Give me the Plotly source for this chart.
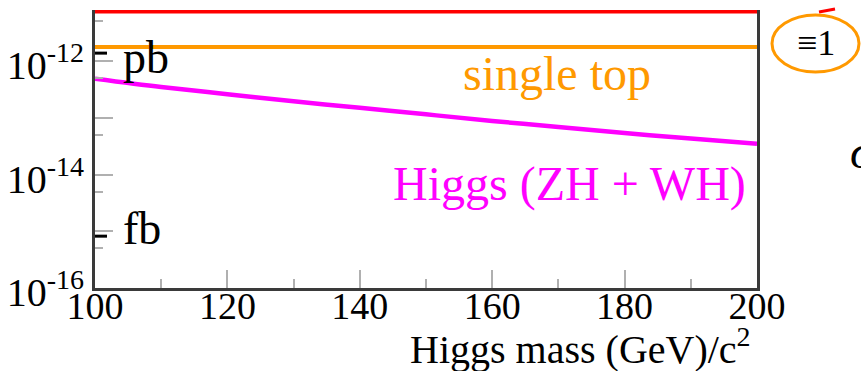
import math
import plotly.graph_objects as go

# ---- data ----
higgs_mass = [100, 110, 120, 130, 140, 150, 160, 170, 180, 190, 200]
higgs_zh_wh = [4.9e-13, 3.5e-13, 2.6e-13, 1.95e-13, 1.5e-13, 1.15e-13,
               8.8e-14, 6.9e-14, 5.4e-14, 4.3e-14, 3.5e-14]
single_top = [1.77e-12] * len(higgs_mass)
top_red = [7.5e-12] * len(higgs_mass)

y_major = [1e-16, 1e-15, 1e-14, 1e-13, 1e-12, 1e-11]
y_major_text = ["10<sup>-16</sup>", "", "10<sup>-14</sup>", "", "10<sup>-12</sup>", ""]
y_minor = [5e-17, 5e-16, 5e-15, 5e-14, 5e-13, 5e-12]
unit_names = ["pb", "fb"]
unit_vals = [1.38e-12, 8.2e-16]
unit_label_shift = [-4, 8]

SERIF = "Liberation Serif"
ORANGE = "#ff9900"
MAGENTA = "#ff00ff"
RED = "#ff0000"

# plot area in pixels
L, R, T, B = 95, 757, 10, 288


def px(p):
    return (p - L) / (R - L)


def py(p):
    return (B - p) / (B - T)


fig = go.Figure()
fig.add_trace(go.Scatter(x=higgs_mass, y=top_red, mode="lines",
                         line=dict(color=RED, width=4), hoverinfo="skip"))
fig.add_trace(go.Scatter(x=higgs_mass, y=single_top, mode="lines",
                         line=dict(color=ORANGE, width=4), hoverinfo="skip"))
fig.add_trace(go.Scatter(x=higgs_mass, y=higgs_zh_wh, mode="lines",
                         line=dict(color=MAGENTA, width=4.5, shape="spline"),
                         hoverinfo="skip"))

annotations = [
    dict(text="single top", x=px(557), y=py(73), font=dict(color=ORANGE, size=48)),
    dict(text="Higgs (ZH + WH)", x=px(569), y=py(184), font=dict(color=MAGENTA, size=48)),
    dict(text="Higgs mass (GeV)/c<sup>2</sup>", x=px(753), y=py(346),
         xanchor="right", font=dict(color="black", size=40)),
    dict(text="≡1", x=px(816), y=py(43), font=dict(color="black", size=36)),
    dict(text="<i>σ</i>", x=px(848), y=py(152), xanchor="left",
         font=dict(color="black", size=48)),
]
for name, v, sh in zip(unit_names, unit_vals, unit_label_shift):
    annotations.append(dict(text=name, x=px(121), y=math.log10(v), yref="y",
                            yshift=sh, xanchor="left",
                            font=dict(color="black", size=46)))
for a in annotations:
    a.setdefault("xref", "paper")
    a.setdefault("yref", "paper")
    a.setdefault("xanchor", "center")
    a.setdefault("yanchor", "middle")
    a["showarrow"] = False
    a["font"]["family"] = SERIF

shapes = [
    dict(type="circle", xref="paper", yref="paper", x0=px(772), x1=px(859),
         y0=py(72), y1=py(15), line=dict(color=ORANGE, width=3)),
    dict(type="line", xref="paper", yref="paper", x0=px(819), x1=px(835),
         y0=py(12), y1=py(9), line=dict(color=RED, width=3)),
]
for v in unit_vals:
    shapes.append(dict(type="line", xref="paper", yref="y", x0=0, x1=px(107),
                       y0=v, y1=v, line=dict(color="black", width=3)))

fig.update_layout(
    width=861, height=371,
    margin=dict(l=L, r=861 - R, t=T, b=371 - B),
    paper_bgcolor="white", plot_bgcolor="white",
    showlegend=False,
    font=dict(family=SERIF, color="black"),
    annotations=annotations,
    shapes=shapes,
    xaxis=dict(range=[100, 200], tickmode="linear", tick0=100, dtick=20,
               ticks="inside", ticklen=18, tickwidth=1.5, tickcolor="#b0b0b0",
               minor=dict(dtick=10, tick0=100, ticks="inside", ticklen=9,
                          tickwidth=1.5, tickcolor="#b0b0b0"),
               showgrid=False, zeroline=False, automargin=False,
               ticklabelstandoff=-18,
               showline=True, linecolor="#3a3a3a", linewidth=3,
               tickfont=dict(size=38, family=SERIF, color="black")),
    yaxis=dict(type="log", range=[-16, -11.10], tickmode="array",
               tickvals=y_major, ticktext=y_major_text,
               ticks="inside", ticklen=18, tickwidth=1.5, tickcolor="#b0b0b0",
               minor=dict(tickmode="array", tickvals=y_minor, ticks="inside",
                          ticklen=8, tickwidth=1.5, tickcolor="#b0b0b0"),
               showgrid=False, zeroline=False, automargin=False,
               ticklabelshift=4,
               showline=True, linecolor="#3a3a3a", linewidth=3, mirror=True,
               tickfont=dict(size=40, family=SERIF, color="black")),
)

fig.write_html("out.html", config={"displayModeBar": False},
               post_script="document.body.style.margin='0px';")
